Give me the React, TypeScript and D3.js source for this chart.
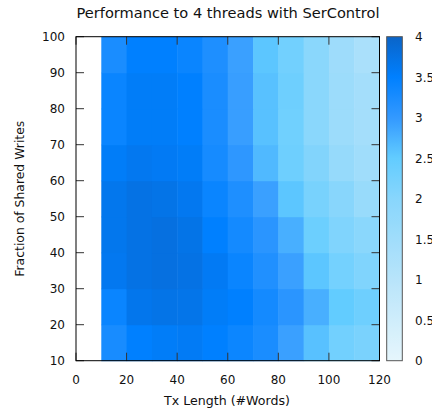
import React from "react";
import * as d3 from "d3";

// Cell lower edges along each axis (each cell spans 10 units)
const txLengths = [10, 20, 30, 40, 50, 60, 70, 80, 90, 100, 110];
const sharedWrites = [10, 20, 30, 40, 50, 60, 70, 80, 90];

// Speedup at 4 threads, one row per shared-write fraction (10 → 90)
const row10 = [3.26, 3.5, 3.56, 3.59, 3.5, 3.38, 3.25, 2.93, 2.61, 2.29, 2.18];
const row20 = [3.4, 3.67, 3.72, 3.7, 3.56, 3.5, 3.3, 3.09, 2.78, 2.5, 2.34];
const row30 = [3.64, 3.75, 3.78, 3.75, 3.6, 3.4, 3.19, 2.93, 2.56, 2.26, 2.11];
const row40 = [3.66, 3.75, 3.78, 3.72, 3.5, 3.3, 3.09, 2.78, 2.37, 2.11, 1.96];
const row50 = [3.66, 3.75, 3.72, 3.64, 3.4, 3.21, 2.93, 2.56, 2.21, 2.0, 1.67];
const row60 = [3.56, 3.64, 3.6, 3.56, 3.28, 3.05, 2.69, 2.34, 2.08, 1.71, 1.5];
const row70 = [3.4, 3.56, 3.56, 3.5, 3.25, 2.95, 2.61, 2.32, 1.96, 1.58, 1.42];
const row80 = [3.4, 3.56, 3.56, 3.5, 3.25, 2.95, 2.61, 2.34, 1.96, 1.58, 1.42];
const row90 = [3.25, 3.5, 3.5, 3.4, 3.21, 2.93, 2.56, 2.29, 1.96, 1.54, 1.29];
const speedups = [row10, row20, row30, row40, row50, row60, row70, row80, row90];

const xTicks = [0, 20, 40, 60, 80, 100, 120];
const yTicks = [10, 20, 30, 40, 50, 60, 70, 80, 90, 100];
const cbTicks = [0, 0.5, 1, 1.5, 2, 2.5, 3, 3.5, 4];

const paletteStops = [0, 1, 2, 2.5, 3, 3.5, 4];
const paletteColors = ["#e6f6fc", "#b8e4fa", "#88d6fc", "#62ccff", "#3399ff", "#0080ff", "#0a64c8"];

const FONT = "DejaVu Sans, sans-serif";

export default function App() {
  const left = 76, right = 379.5, top = 36.7, bottom = 360.7;
  const x = d3.scaleLinear().domain([0, 120]).range([left, right]);
  const y = d3.scaleLinear().domain([10, 100]).range([bottom, top]);
  const color = d3
    .scaleLinear<string>()
    .domain(paletteStops)
    .range(paletteColors)
    .interpolate(d3.interpolateRgb)
    .clamp(true);

  const cbLeft = 386.7, cbRight = 402.3;
  const cb = d3.scaleLinear().domain([0, 4]).range([bottom, top]);
  const gradStops = d3.range(0, 4.0001, 0.1);

  const cells: React.ReactNode[] = [];
  sharedWrites.forEach((sw, j) => {
    txLengths.forEach((tx, i) => {
      const x0 = x(tx), x1 = x(tx + 10);
      const y0 = y(sw + 10), y1 = y(sw);
      cells.push(
        <rect
          key={`${i}-${j}`}
          x={x0}
          y={y0}
          width={x1 - x0 + 0.5}
          height={y1 - y0 + 0.5}
          fill={color(speedups[j][i])}
        />
      );
    });
  });

  const tickStroke = "#333";

  return (
    <svg
      width={432}
      height={410}
      style={{ position: "absolute", left: 0, top: 0, background: "#fff" }}
      fontFamily={FONT}
    >
      <defs>
        <linearGradient id="cbGrad" x1="0" y1="1" x2="0" y2="0">
          {gradStops.map((v) => (
            <stop key={v} offset={`${(v / 4) * 100}%`} stopColor={color(v)} />
          ))}
        </linearGradient>
      </defs>

      <text x={228} y={18} textAnchor="middle" fontSize={14.6} fill="#111">
        Performance to 4 threads with SerControl
      </text>

      <g>{cells}</g>

      {/* tick marks, mirrored on opposite borders */}
      {yTicks.map((t) => (
        <g key={`yt${t}`} stroke={tickStroke} strokeWidth={1}>
          <line x1={left} x2={left + 8} y1={y(t)} y2={y(t)} />
          <line x1={right - 8} x2={right} y1={y(t)} y2={y(t)} />
        </g>
      ))}
      {xTicks.map((t) => (
        <g key={`xt${t}`} stroke={tickStroke} strokeWidth={1}>
          <line x1={x(t)} x2={x(t)} y1={bottom} y2={bottom - 8} />
          <line x1={x(t)} x2={x(t)} y1={top} y2={top + 8} />
        </g>
      ))}

      <rect
        x={left}
        y={top}
        width={right - left}
        height={bottom - top}
        fill="none"
        stroke="#000"
        strokeWidth={1}
      />

      {yTicks.map((t) => (
        <text
          key={`yl${t}`}
          x={left - 11}
          y={y(t)}
          dy="0.36em"
          textAnchor="end"
          fontSize={12}
          fill="#111"
        >
          {t}
        </text>
      ))}
      {xTicks.map((t) => (
        <text
          key={`xl${t}`}
          x={x(t)}
          y={380}
          dy="0.36em"
          textAnchor="middle"
          fontSize={12}
          fill="#111"
        >
          {t}
        </text>
      ))}

      <text x={227} y={405} textAnchor="middle" fontSize={12.6} fill="#111">
        Tx Length (#Words)
      </text>
      <text
        transform={`translate(24,${(top + bottom) / 2}) rotate(-90)`}
        textAnchor="middle"
        fontSize={12.4}
        fill="#111"
      >
        Fraction of Shared Writes
      </text>

      {/* color box */}
      <rect
        x={cbLeft}
        y={top}
        width={cbRight - cbLeft}
        height={bottom - top}
        fill="url(#cbGrad)"
        stroke="#555"
        strokeWidth={1}
      />
      {cbTicks.map((t) => (
        <text
          key={`cb${t}`}
          x={415}
          y={cb(t)}
          dy="0.36em"
          textAnchor="start"
          fontSize={12}
          fill="#111"
        >
          {t}
        </text>
      ))}
    </svg>
  );
}
